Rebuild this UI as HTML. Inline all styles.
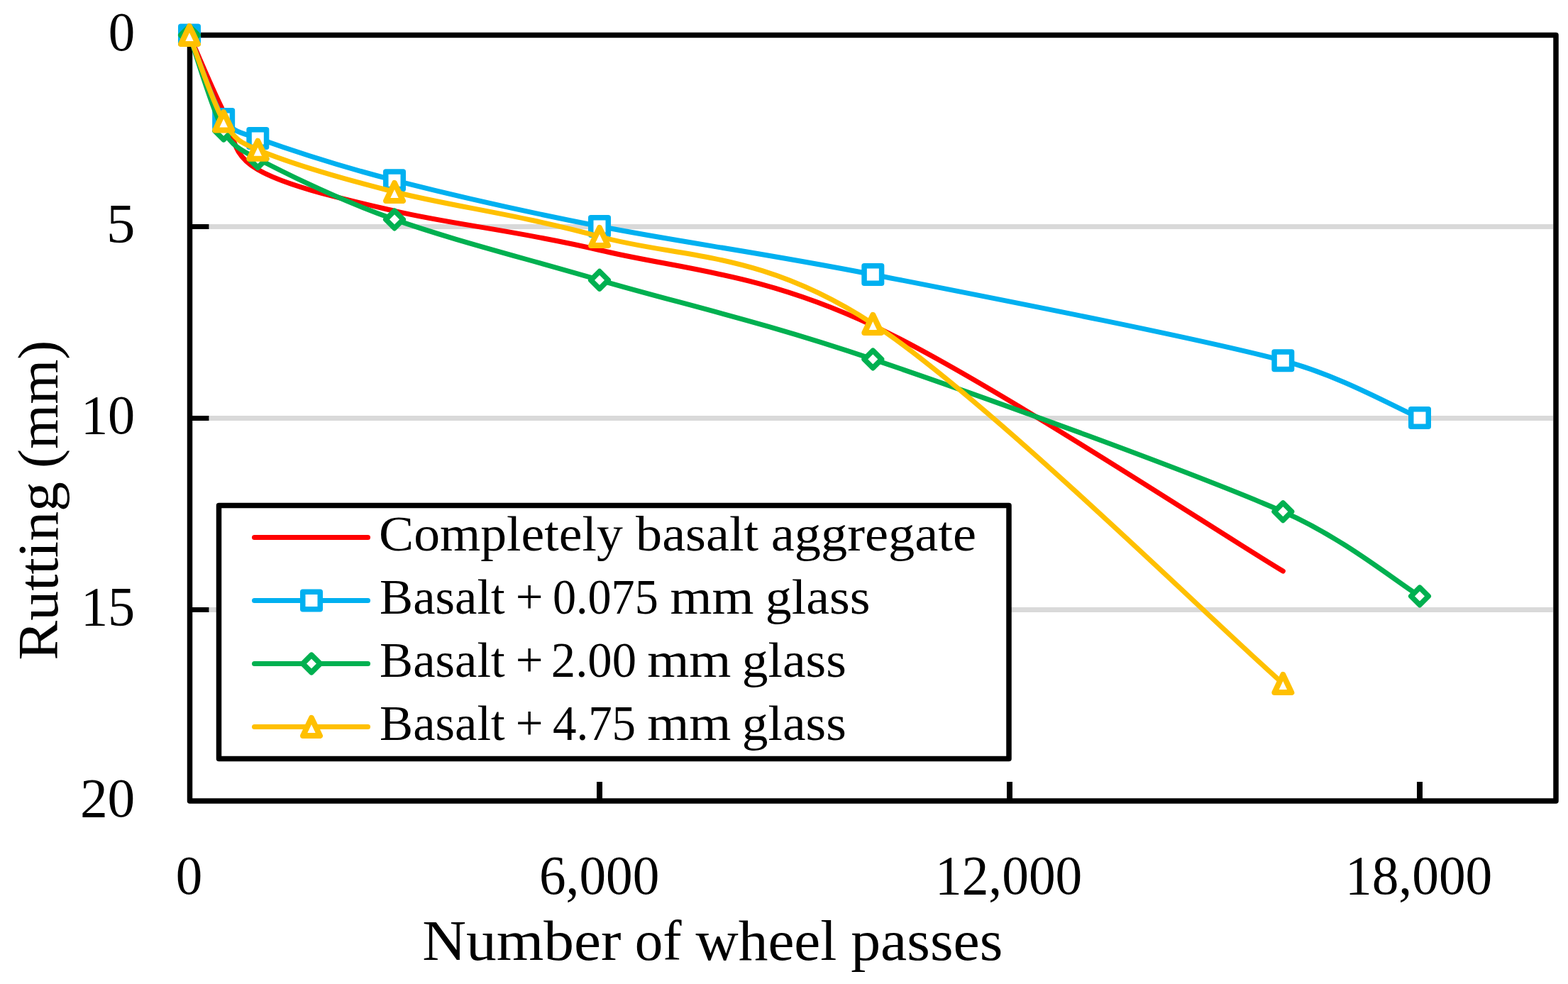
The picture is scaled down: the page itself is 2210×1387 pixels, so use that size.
<!DOCTYPE html><html><head><meta charset="utf-8"><title>Rutting chart</title><style>html,body{margin:0;padding:0;background:#fff;overflow:hidden}svg{display:block}text{font-family:'Liberation Serif', 'DejaVu Serif', serif;fill:#000}</style></head><body>
<svg width="2210" height="1387" viewBox="0 0 2210 1387">
<rect width="2210" height="1387" fill="#fff"/>
<rect x="295" y="316.0" width="1894" height="7" fill="#D9D9D9"/>
<rect x="295" y="586.0" width="1894" height="7" fill="#D9D9D9"/>
<rect x="295" y="856.0" width="1894" height="7" fill="#D9D9D9"/>
<rect x="270" y="316.0" width="24.5" height="7" fill="#000"/>
<rect x="270" y="586.0" width="24.5" height="7" fill="#000"/>
<rect x="270" y="856.0" width="24.5" height="7" fill="#000"/>
<rect x="841.0" y="1102" width="8" height="24" fill="#000"/>
<rect x="1419.0" y="1102" width="8" height="24" fill="#000"/>
<rect x="1997.0" y="1102" width="8" height="24" fill="#000"/>
<path d="M267.5 49.5H2193V1129H267.5Z" fill="none" stroke="#000" stroke-width="7.5" stroke-linejoin="round"/>
<path d="M267.00 49.50 C275.03 67.50 299.11 125.92 315.17 157.50 C331.22 189.08 323.19 215.68 363.33 239.00 C403.47 262.32 475.72 278.48 556.00 297.40 C636.28 316.32 732.61 325.60 845.00 352.50 C957.39 379.40 1069.78 383.38 1230.33 458.80 C1390.89 534.22 1712.00 747.30 1808.33 805.00" fill="none" stroke="#FF0000" stroke-width="7" stroke-linecap="round" stroke-linejoin="round"/>
<path d="M267.00 49.50 C275.03 69.25 299.11 143.75 315.17 168.00 C327.36 186.42 342.54 187.56 363.33 195.00 C403.47 209.37 475.72 233.53 556.00 254.20 C636.28 274.87 732.61 296.87 845.00 319.00 C957.39 341.13 1069.78 355.45 1230.33 387.00 C1390.89 418.55 1679.89 474.63 1808.33 508.30 C1889.16 529.48 1968.89 575.55 2001.00 589.00" fill="none" stroke="#00B0F0" stroke-width="7" stroke-linecap="round" stroke-linejoin="round"/>
<rect x="254.75" y="37.25" width="24.50" height="24.50" fill="#fff" stroke="#00B0F0" stroke-width="7.5" stroke-linejoin="round"/>
<rect x="302.92" y="155.75" width="24.50" height="24.50" fill="#fff" stroke="#00B0F0" stroke-width="7.5" stroke-linejoin="round"/>
<rect x="351.08" y="182.75" width="24.50" height="24.50" fill="#fff" stroke="#00B0F0" stroke-width="7.5" stroke-linejoin="round"/>
<rect x="543.75" y="241.95" width="24.50" height="24.50" fill="#fff" stroke="#00B0F0" stroke-width="7.5" stroke-linejoin="round"/>
<rect x="832.75" y="306.75" width="24.50" height="24.50" fill="#fff" stroke="#00B0F0" stroke-width="7.5" stroke-linejoin="round"/>
<rect x="1218.08" y="374.75" width="24.50" height="24.50" fill="#fff" stroke="#00B0F0" stroke-width="7.5" stroke-linejoin="round"/>
<rect x="1796.08" y="496.05" width="24.50" height="24.50" fill="#fff" stroke="#00B0F0" stroke-width="7.5" stroke-linejoin="round"/>
<rect x="1988.75" y="576.75" width="24.50" height="24.50" fill="#fff" stroke="#00B0F0" stroke-width="7.5" stroke-linejoin="round"/>
<path d="M267.00 49.50 C275.03 72.02 299.11 155.52 315.17 184.60 C327.20 206.39 341.23 212.55 363.33 224.00 C403.47 244.80 475.72 280.93 556.00 309.40 C636.28 337.87 732.61 361.97 845.00 394.80 C957.39 427.63 1069.78 452.00 1230.33 506.40 C1390.89 560.80 1679.89 665.53 1808.33 721.20 C1891.48 757.24 1968.89 820.53 2001.00 840.40" fill="none" stroke="#00B050" stroke-width="7" stroke-linecap="round" stroke-linejoin="round"/>
<path d="M267.00 37.25L279.25 49.50L267.00 61.75L254.75 49.50Z" fill="#fff" stroke="#00B050" stroke-width="7.5" stroke-linejoin="round"/>
<path d="M315.17 172.35L327.42 184.60L315.17 196.85L302.92 184.60Z" fill="#fff" stroke="#00B050" stroke-width="7.5" stroke-linejoin="round"/>
<path d="M363.33 211.75L375.58 224.00L363.33 236.25L351.08 224.00Z" fill="#fff" stroke="#00B050" stroke-width="7.5" stroke-linejoin="round"/>
<path d="M556.00 297.15L568.25 309.40L556.00 321.65L543.75 309.40Z" fill="#fff" stroke="#00B050" stroke-width="7.5" stroke-linejoin="round"/>
<path d="M845.00 382.55L857.25 394.80L845.00 407.05L832.75 394.80Z" fill="#fff" stroke="#00B050" stroke-width="7.5" stroke-linejoin="round"/>
<path d="M1230.33 494.15L1242.58 506.40L1230.33 518.65L1218.08 506.40Z" fill="#fff" stroke="#00B050" stroke-width="7.5" stroke-linejoin="round"/>
<path d="M1808.33 708.95L1820.58 721.20L1808.33 733.45L1796.08 721.20Z" fill="#fff" stroke="#00B050" stroke-width="7.5" stroke-linejoin="round"/>
<path d="M2001.00 828.15L2013.25 840.40L2001.00 852.65L1988.75 840.40Z" fill="#fff" stroke="#00B050" stroke-width="7.5" stroke-linejoin="round"/>
<path d="M267.00 49.50 C275.03 69.72 299.11 143.85 315.17 170.80 C331.22 197.75 340.10 201.58 363.33 211.20 C403.47 227.82 475.72 250.12 556.00 270.50 C636.28 290.88 732.61 302.52 845.00 333.50 C957.39 364.48 1069.78 351.40 1230.33 456.40 C1390.89 561.40 1712.00 878.98 1808.33 963.50" fill="none" stroke="#FFC000" stroke-width="7" stroke-linecap="round" stroke-linejoin="round"/>
<path d="M267.00 36.90L279.00 62.10L255.00 62.10Z" fill="#fff" stroke="#FFC000" stroke-width="8" stroke-linejoin="round"/>
<path d="M315.17 158.20L327.17 183.40L303.17 183.40Z" fill="#fff" stroke="#FFC000" stroke-width="8" stroke-linejoin="round"/>
<path d="M363.33 198.60L375.33 223.80L351.33 223.80Z" fill="#fff" stroke="#FFC000" stroke-width="8" stroke-linejoin="round"/>
<path d="M556.00 257.90L568.00 283.10L544.00 283.10Z" fill="#fff" stroke="#FFC000" stroke-width="8" stroke-linejoin="round"/>
<path d="M845.00 320.90L857.00 346.10L833.00 346.10Z" fill="#fff" stroke="#FFC000" stroke-width="8" stroke-linejoin="round"/>
<path d="M1230.33 443.80L1242.33 469.00L1218.33 469.00Z" fill="#fff" stroke="#FFC000" stroke-width="8" stroke-linejoin="round"/>
<path d="M1808.33 950.90L1820.33 976.10L1796.33 976.10Z" fill="#fff" stroke="#FFC000" stroke-width="8" stroke-linejoin="round"/>
<path d="M308.5 712.5H1422V1069.5H308.5Z" fill="#fff" stroke="#000" stroke-width="7.5" stroke-linejoin="round"/>
<line x1="358.5" y1="757.5" x2="518.5" y2="757.5" stroke="#FF0000" stroke-width="7" stroke-linecap="round"/>
<line x1="358.5" y1="846.5" x2="518.5" y2="846.5" stroke="#00B0F0" stroke-width="7" stroke-linecap="round"/>
<rect x="426.75" y="834.25" width="24.50" height="24.50" fill="#fff" stroke="#00B0F0" stroke-width="7.5" stroke-linejoin="round"/>
<line x1="358.5" y1="935.5" x2="518.5" y2="935.5" stroke="#00B050" stroke-width="7" stroke-linecap="round"/>
<path d="M439.00 923.25L451.25 935.50L439.00 947.75L426.75 935.50Z" fill="#fff" stroke="#00B050" stroke-width="7.5" stroke-linejoin="round"/>
<line x1="358.5" y1="1024.5" x2="518.5" y2="1024.5" stroke="#FFC000" stroke-width="7" stroke-linecap="round"/>
<path d="M439.00 1011.90L451.00 1037.10L427.00 1037.10Z" fill="#fff" stroke="#FFC000" stroke-width="8" stroke-linejoin="round"/>
<text x="152.75" y="71.00" font-size="79.00" textLength="37.50" lengthAdjust="spacingAndGlyphs">0</text>
<text x="149.95" y="341.00" font-size="79.00" textLength="40.48" lengthAdjust="spacingAndGlyphs">5</text>
<text x="113.89" y="611.00" font-size="79.00" textLength="76.40" lengthAdjust="spacingAndGlyphs">10</text>
<text x="113.89" y="881.00" font-size="79.00" textLength="76.40" lengthAdjust="spacingAndGlyphs">15</text>
<text x="112.90" y="1151.00" font-size="79.00" textLength="77.42" lengthAdjust="spacingAndGlyphs">20</text>
<text x="247.75" y="1260.00" font-size="79.00" textLength="37.50" lengthAdjust="spacingAndGlyphs">0</text>
<text x="759.99" y="1260.00" font-size="79.00" textLength="169.27" lengthAdjust="spacingAndGlyphs">6,000</text>
<text x="1317.97" y="1260.00" font-size="79.00" textLength="207.29" lengthAdjust="spacingAndGlyphs">12,000</text>
<text x="1895.97" y="1260.00" font-size="79.00" textLength="207.29" lengthAdjust="spacingAndGlyphs">18,000</text>
<text x="595.29" y="1353.00" font-size="80.00" textLength="280.30" lengthAdjust="spacingAndGlyphs">Number</text>
<text x="894.63" y="1353.00" font-size="80.00" textLength="65.83" lengthAdjust="spacingAndGlyphs">of</text>
<text x="980.60" y="1353.00" font-size="80.00" textLength="198.88" lengthAdjust="spacingAndGlyphs">wheel</text>
<text x="1199.16" y="1353.00" font-size="80.00" textLength="214.30" lengthAdjust="spacingAndGlyphs">passes</text>
<g transform="translate(81 0) rotate(-90)"><text x="-930.68" y="0.00" font-size="80.00" textLength="251.71" lengthAdjust="spacingAndGlyphs">Rutting</text><text x="-659.95" y="0.00" font-size="80.00" textLength="180.33" lengthAdjust="spacingAndGlyphs">(mm)</text></g>
<text x="534.05" y="776.00" font-size="70.00" textLength="343.66" lengthAdjust="spacingAndGlyphs">Completely</text>
<text x="896.00" y="776.00" font-size="70.00" textLength="173.20" lengthAdjust="spacingAndGlyphs">basalt</text>
<text x="1086.77" y="776.00" font-size="70.00" textLength="289.19" lengthAdjust="spacingAndGlyphs">aggregate</text>
<text x="535.09" y="865.00" font-size="70.00" textLength="176.58" lengthAdjust="spacingAndGlyphs">Basalt</text>
<text x="726.65" y="865.00" font-size="70.00" textLength="38.78" lengthAdjust="spacingAndGlyphs">+</text>
<text x="778.92" y="865.00" font-size="70.00" textLength="148.87" lengthAdjust="spacingAndGlyphs">0.075</text>
<text x="944.58" y="865.00" font-size="70.00" textLength="118.01" lengthAdjust="spacingAndGlyphs">mm</text>
<text x="1078.74" y="865.00" font-size="70.00" textLength="147.77" lengthAdjust="spacingAndGlyphs">glass</text>
<text x="535.09" y="954.00" font-size="70.00" textLength="176.58" lengthAdjust="spacingAndGlyphs">Basalt</text>
<text x="726.65" y="954.00" font-size="70.00" textLength="38.78" lengthAdjust="spacingAndGlyphs">+</text>
<text x="776.85" y="954.00" font-size="70.00" textLength="120.10" lengthAdjust="spacingAndGlyphs">2.00</text>
<text x="912.18" y="954.00" font-size="70.00" textLength="118.22" lengthAdjust="spacingAndGlyphs">mm</text>
<text x="1045.76" y="954.00" font-size="70.00" textLength="147.05" lengthAdjust="spacingAndGlyphs">glass</text>
<text x="535.09" y="1043.00" font-size="70.00" textLength="176.58" lengthAdjust="spacingAndGlyphs">Basalt</text>
<text x="726.65" y="1043.00" font-size="70.00" textLength="38.78" lengthAdjust="spacingAndGlyphs">+</text>
<text x="778.93" y="1043.00" font-size="70.00" textLength="117.18" lengthAdjust="spacingAndGlyphs">4.75</text>
<text x="912.18" y="1043.00" font-size="70.00" textLength="118.22" lengthAdjust="spacingAndGlyphs">mm</text>
<text x="1045.76" y="1043.00" font-size="70.00" textLength="147.05" lengthAdjust="spacingAndGlyphs">glass</text>
</svg></body></html>
